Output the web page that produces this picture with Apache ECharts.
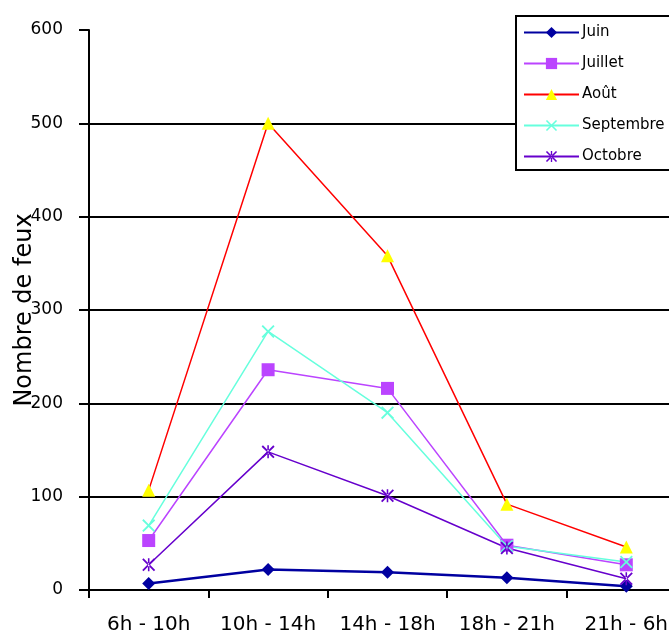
<!DOCTYPE html>
<html>
<head>
<meta charset="utf-8">
<script src="https://cdn.jsdelivr.net/npm/echarts@6/dist/echarts.min.js"></script>
<style>
  html, body { margin: 0; padding: 0; background: #fff; overflow: hidden; }
  #chart { width: 700px; height: 636px; }
</style>
</head>
<body>
<div id="chart"></div>
<script>
// Time slots of the day
const categories = ['6h - 10h', '10h - 14h', '14h - 18h', '18h - 21h', '21h - 6h'];

// Number of fires per time slot, one array per month
const juin      = [7, 22, 19, 13, 4];
const juillet   = [53, 236, 216, 48, 27];
const aout      = [107, 500, 358, 92, 46];
const septembre = [69, 277, 190, 47, 30];
const octobre   = [27, 148, 101, 45, 12];

const yTicks = [0, 100, 200, 300, 400, 500, 600];

// Marker shapes: a diagonal cross and an asterisk (cross + vertical bar)
const crossPath = 'path://M0,1L1,0L5,4L9,0L10,1L6,5L10,9L9,10L5,6L1,10L0,9L4,5Z';
const starPath = 'path://M0,1L1,0L5,4L9,0L10,1L6,5L10,9L9,10L5,6L1,10L0,9L4,5Z M5.6,0L4.4,0L4.4,10L5.6,10Z';

const font = '"DejaVu Sans", Verdana, sans-serif';

function lineSeries(name, data, lineColor, markerColor, symbol, size, width) {
  return {
    name: name,
    type: 'line',
    data: data,
    symbol: symbol,
    symbolSize: size,
    showSymbol: true,
    animation: false,
    lineStyle: { color: lineColor, width: width },
    itemStyle: { color: markerColor, borderWidth: 0 },
    emphasis: { disabled: true }
  };
}

const chart = echarts.init(document.getElementById('chart'), null, { renderer: 'canvas' });

chart.setOption({
  backgroundColor: '#ffffff',
  animation: false,
  textStyle: { fontFamily: font, color: '#000' },
  grid: { left: 89, top: 30, width: 597, height: 560, containLabel: false, outerBoundsMode: 'none' },
  legend: {
    orient: 'vertical',
    left: 516,
    top: 16,
    padding: [9, 30, 6, 7],
    itemWidth: 55,
    itemHeight: 14,
    itemGap: 16,
    backgroundColor: '#ffffff',
    borderColor: '#000000',
    borderWidth: 2,
    borderRadius: 0,
    textStyle: { fontFamily: font, fontSize: 15, color: '#000', padding: [0, 0, 0, -2] },
    data: ['Juin', 'Juillet', 'Août', 'Septembre', 'Octobre']
  },
  xAxis: {
    type: 'category',
    data: categories,
    boundaryGap: true,
    axisLine: { show: true, lineStyle: { color: '#000', width: 2 } },
    axisTick: { show: true, inside: false, length: 8, alignWithLabel: false, interval: 0, lineStyle: { color: '#000', width: 2 } },
    axisLabel: { fontFamily: font, fontSize: 20, color: '#000', margin: 25, interval: 0, hideOverlap: false },
    splitLine: { show: false }
  },
  yAxis: {
    type: 'value',
    min: yTicks[0],
    max: yTicks[yTicks.length - 1],
    interval: 100,
    name: 'Nombre de feux',
    nameLocation: 'middle',
    nameGap: 52,
    nameMoveOverlap: false,
    nameTextStyle: { fontFamily: font, fontSize: 24, color: '#000' },
    axisLine: { show: true, lineStyle: { color: '#000', width: 2 } },
    axisTick: { show: true, inside: false, length: 10, lineStyle: { color: '#000', width: 2 } },
    axisLabel: { fontFamily: font, fontSize: 17, color: '#000', margin: 26 },
    splitLine: { show: true, showMinLine: false, showMaxLine: false, lineStyle: { color: '#000', width: 2 } }
  },
  series: [
    lineSeries('Juin', juin, '#0000a0', '#0000a0', 'diamond', 13, 2.5),
    lineSeries('Juillet', juillet, '#bb44ff', '#bb44ff', 'rect', 13, 1.5),
    lineSeries('Août', aout, '#ff0000', '#ffff00', 'triangle', 13, 1.5),
    lineSeries('Septembre', septembre, '#66ffdd', '#66ffdd', crossPath, 13, 1.5),
    lineSeries('Octobre', octobre, '#6600cc', '#6600cc', starPath, 13, 1.5)
  ]
});
</script>
</body>
</html>
